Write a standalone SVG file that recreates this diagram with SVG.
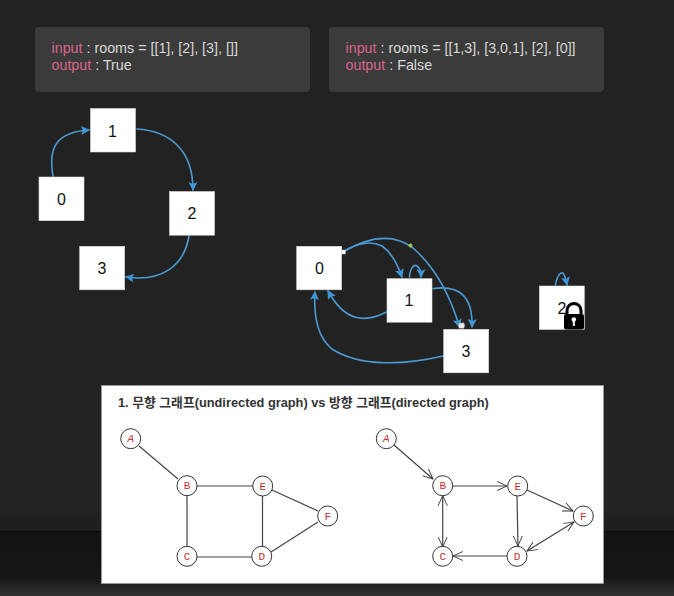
<svg xmlns="http://www.w3.org/2000/svg" width="674" height="596" viewBox="0 0 674 596">
<style>
text{font-family:"Liberation Sans","Noto Sans CJK KR",sans-serif}
.card{fill:#3b3b3b}
.code{font-size:14.3px;fill:#d8d8d8}
.pink{fill:#d9648c}
.box{fill:#fff;stroke:#d8d8d8;stroke-width:.6}
.num{font-size:16px;fill:#111;text-anchor:middle;font-weight:500}
.blue{fill:none;stroke:#4a9ad4;stroke-width:1.6;stroke-linecap:round}
.blueh{fill:#3f97d6;stroke:none}
.edge{stroke:#444;stroke-width:1.2;fill:none}
.circ{fill:#fff;stroke:#333;stroke-width:1}
.let{font-size:11px;fill:#c23232;text-anchor:middle;font-family:"Liberation Mono",monospace}
.head{fill:none;stroke:#333;stroke-width:.9;stroke-linecap:round}
</style>
<defs>
<linearGradient id="bottomFade" x1="0" y1="0" x2="0" y2="1">
<stop offset="0" stop-color="#131313"/><stop offset="0.7" stop-color="#151515"/><stop offset="1" stop-color="#333"/>
</linearGradient>
<marker id="ab" markerUnits="userSpaceOnUse" markerWidth="11" markerHeight="10" refX="8" refY="4.5" orient="auto">
<path d="M0 0L9 4.5L0 9L2 4.5Z" class="blueh"/>
</marker>
<marker id="ah" markerUnits="userSpaceOnUse" markerWidth="14" markerHeight="14" refX="10" refY="6" orient="auto-start-reverse">
<path d="M0 1.5L10 6L0 10.5" class="head"/>
</marker>
</defs>

<rect width="674" height="596" fill="#222"/>
<rect y="517" width="674" height="15" fill="#1f1f1f"/>
<rect y="532" width="674" height="64" fill="url(#bottomFade)"/>
<rect y="531" width="674" height="1.2" fill="#080808"/>

<g id="card-true">
<rect class="card" x="35" y="27" width="275" height="65" rx="4"/>
<text class="code" x="51.500" y="53"><tspan class="pink">input</tspan> : rooms = [[1], [2], [3], []]</text>
<text class="code" x="51.500" y="70"><tspan class="pink">output</tspan> : True</text>
</g>
<g id="card-false">
<rect class="card" x="329" y="27" width="275" height="65" rx="4"/>
<text class="code" x="345.500" y="53"><tspan class="pink">input</tspan> : rooms = [[1,3], [3,0,1], [2], [0]]</text>
<text class="code" x="345.500" y="70"><tspan class="pink">output</tspan> : False</text>
</g>

<g id="panel">
<rect x="101.500" y="385.500" width="502" height="198" fill="#fff" stroke="#999" stroke-width=".8"/>
<text x="118" y="407" font-size="12.800" font-weight="700" fill="#333">1. 무향 그래프(undirected graph) vs 방향 그래프(directed graph)</text>
</g>

<g id="connectors">
<path class="blue" marker-end="url(#ab)" d="M53 176C48 148 56 132 89 130"/>
<path class="blue" marker-end="url(#ab)" d="M137 129C170 131 193 150 193 190"/>
<path class="blue" marker-end="url(#ab)" d="M189 236C184 266 162 282 126 277"/>
<path class="blue" marker-end="url(#ab)" d="M343 252C358 242 372 241 382 246C391 252 397 263 402 277"/>
<path class="blue" marker-end="url(#ab)" d="M343 252C368 237 393 233 413 248C436 268 450 295 459.500 327"/>
<path class="blue" marker-end="url(#ab)" d="M409.500 277C410 268 414 264 417 266C420 268 421 272 421 277"/>
<path class="blue" marker-end="url(#ab)" d="M433 288.500C458 285 473 295 472 327"/>
<path class="blue" marker-end="url(#ab)" d="M386.500 312C365 323 345 322 328 291"/>
<path class="blue" marker-end="url(#ab)" d="M443 356C400 366 358 366 332 349C322 341 313 325 315 292"/>
<path class="blue" marker-end="url(#ab)" d="M555.500 285C557 275 561 272 563 273C565 275 566 280 567 285"/>
<rect x="341.500" y="250" width="4" height="4" fill="#fff" stroke="#aaa" stroke-width=".5"/>
<circle cx="410.500" cy="245.500" r="2" fill="#9ccb4a"/>

<path class="edge" d="M139 446L178 479"/>
<path class="edge" d="M197 486H253"/>
<path class="edge" d="M187 495V547"/>
<path class="edge" d="M197 557H252"/>
<path class="edge" d="M262.500 496V547"/>
<path class="edge" d="M272 490L318 511"/>
<path class="edge" d="M271 552L318 522"/>

<path class="edge" marker-end="url(#ah)" d="M394 445L433 479"/>
<path class="edge" marker-end="url(#ah)" d="M452.500 486H507"/>
<path class="edge" marker-end="url(#ah)" marker-start="url(#ah)" d="M442.700 495.500V547"/>
<path class="edge" marker-end="url(#ah)" d="M507 556H453"/>
<path class="edge" marker-end="url(#ah)" d="M517 496L518 546"/>
<path class="edge" marker-end="url(#ah)" d="M527 490L573 511"/>
<path class="edge" marker-end="url(#ah)" marker-start="url(#ah)" d="M527 551L574 522"/>
</g>

<g id="n-l0"><rect class="box" x="39" y="177" width="45" height="43.700"/><text class="num" x="61.500" y="204.500">0</text></g>
<g id="n-l1"><rect class="box" x="90.500" y="108.500" width="45" height="43.500"/><text class="num" x="112.500" y="136.500">1</text></g>
<g id="n-l2"><rect class="box" x="169.500" y="191.500" width="45" height="43.700"/><text class="num" x="192" y="218.500">2</text></g>
<g id="n-l3"><rect class="box" x="79.700" y="246.300" width="45" height="43.500"/><text class="num" x="102" y="273.500">3</text></g>

<g id="n-r0"><rect class="box" x="296.700" y="246.300" width="45" height="43.500"/><text class="num" x="319.500" y="273.500">0</text></g>
<g id="n-r1"><rect class="box" x="387" y="278.700" width="45" height="43.500"/><text class="num" x="409" y="306">1</text></g>
<g id="n-r3"><rect class="box" x="443.700" y="329.300" width="45" height="43.500"/><text class="num" x="466" y="357">3</text></g>
<g id="n-r2"><rect class="box" x="539.300" y="286" width="45" height="43.500"/><text class="num" x="562" y="314">2</text>
<path d="M567 316V310.500a7 7 0 0 1 14 0V316" fill="none" stroke="#000" stroke-width="3"/>
<rect x="564" y="314" width="20" height="15.500" rx="2" fill="#000"/>
<circle cx="573.800" cy="319.500" r="2.300" fill="#fff"/><rect x="572.800" y="320" width="2" height="6" fill="#fff"/>
</g>
<path d="M458 325l1.500-2.500 2 .5 2-.5 1.500 2.500-1 3.500h-5z" fill="#e8e8e8" stroke="#666" stroke-width=".6"/>

<g id="u-A"><circle class="circ" cx="130.700" cy="438.700" r="10"/><text class="let" x="130.700" y="442.200" font-style="italic">A</text></g>
<g id="u-B"><circle class="circ" cx="187" cy="485.700" r="10"/><text class="let" x="187" y="489.200">B</text></g>
<g id="u-E"><circle class="circ" cx="262.700" cy="486" r="10"/><text class="let" x="262.700" y="489.500">E</text></g>
<g id="u-F"><circle class="circ" cx="327.700" cy="516" r="10"/><text class="let" x="327.700" y="519.500">F</text></g>
<g id="u-C"><circle class="circ" cx="187" cy="556.300" r="10"/><text class="let" x="187" y="559.800">C</text></g>
<g id="u-D"><circle class="circ" cx="261.700" cy="556.300" r="10"/><text class="let" x="261.700" y="559.800">D</text></g>
<g id="d-A"><circle class="circ" cx="386.300" cy="438.700" r="10"/><text class="let" x="386.300" y="442.200" font-style="italic">A</text></g>
<g id="d-B"><circle class="circ" cx="442.700" cy="485.700" r="10"/><text class="let" x="442.700" y="489.200">B</text></g>
<g id="d-E"><circle class="circ" cx="517.700" cy="486" r="10"/><text class="let" x="517.700" y="489.500">E</text></g>
<g id="d-F"><circle class="circ" cx="583.300" cy="516" r="10"/><text class="let" x="583.300" y="519.500">F</text></g>
<g id="d-C"><circle class="circ" cx="442.700" cy="556.300" r="10"/><text class="let" x="442.700" y="559.800">C</text></g>
<g id="d-D"><circle class="circ" cx="517" cy="556.300" r="10"/><text class="let" x="517" y="559.800">D</text></g>
</svg>
